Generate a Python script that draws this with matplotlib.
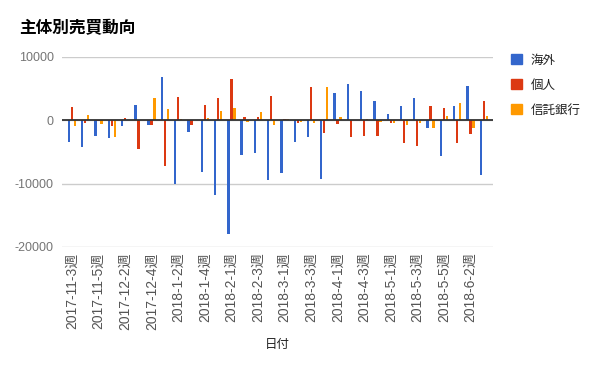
import matplotlib
matplotlib.use("Agg")
import matplotlib.pyplot as plt
from matplotlib.patches import Patch
import numpy as np

plt.rcParams['font.family'] = ['Liberation Sans', 'Noto Sans CJK JP', 'DejaVu Sans']

categories = [
    "2017-11-3週", "2017-11-4週", "2017-11-5週", "2017-12-1週", "2017-12-2週", "2017-12-3週",
    "2017-12-4週", "2018-1-1週", "2018-1-2週", "2018-1-3週", "2018-1-4週", "2018-1-5週",
    "2018-2-1週", "2018-2-2週", "2018-2-3週", "2018-2-4週", "2018-3-1週", "2018-3-2週",
    "2018-3-3週", "2018-3-4週", "2018-4-1週", "2018-4-2週", "2018-4-3週", "2018-4-4週",
    "2018-5-1週", "2018-5-2週", "2018-5-3週", "2018-5-4週", "2018-5-5週", "2018-6-1週",
    "2018-6-2週", "2018-6-3週",
]
kaigai = [-3400, -4200, -2450, -2750, -850, 2400, -700, 6800, -10050, -1800,
          -8150, -11800, -17900, -5450, -5100, -9400, -8300, -3400, -2600, -9250,
          4300, 5700, 4600, 3000, 950, 2200, 3500, -1150, -5600, 2200, 5400, -8600]
kojin = [2100, -400, -100, -850, 300, -4500, -700, -7200, 3750, -700,
         2400, 3500, 6500, 450, 600, 3800, 200, -400, 5250, -1950,
         -550, -2600, -2450, -2450, -400, -3550, -4000, 2200, 1900, -3550, -2100, 3000]
shintaku = [-850, 800, -550, -2600, 50, 50, 3450, 1750, 150, 50,
            300, 1450, 1900, -200, 1250, -700, 200, -200, -350, 5250,
            450, 50, 200, -200, -350, -700, -350, -1150, 650, 2700, -1150, 650]
series_names = ["海外", "個人", "信託銀行"]
colors = ["#3366cc", "#dc3912", "#ff9900"]

fig = plt.figure(figsize=(6, 3.71), dpi=100)
ax = fig.add_axes([62/600, 1-247/371, (493-62)/600, 190/371])

x = np.arange(len(categories))
w = 0.175
off = 0.226
for i, (vals, c) in enumerate(zip([kaigai, kojin, shintaku], colors)):
    ax.bar(x + (i-1)*off, vals, width=w, color=c, zorder=3, linewidth=0)

ax.set_xlim(-0.75, len(categories)-0.3)
ax.set_ylim(-20000, 10000)
ax.set_yticks([-20000, -10000, 0, 10000])
ax.set_yticklabels(["-20000", "-10000", "0", "10000"])
ax.grid(axis='y', color='#cccccc', linewidth=1, zorder=0)
ax.axhline(0, color='#333333', linewidth=1.3, zorder=4)
for s in ax.spines.values():
    s.set_visible(False)
ax.tick_params(axis='y', length=0, pad=6, labelsize=9, labelcolor='#757575')
ax.set_xticks(x[::2])
ax.set_xticklabels(categories[::2], rotation=90, va='top', ha='center')
ax.tick_params(axis='x', length=0, pad=4, labelsize=10, labelcolor='#555555')

fig.text(19/600, 1-28/371, "主体別売買動向", fontsize=12, fontweight='bold',
         va='center', ha='left', color='black')
fig.text(277/600, 1-345/371, "日付", fontsize=9, va='center', ha='center', color='#222222')

handles = [Patch(facecolor=c, edgecolor=c) for c in colors]
fig.legend(handles, series_names, loc='upper left', bbox_to_anchor=(506/600, 1-49/371),
           frameon=False, fontsize=9, handlelength=0.9, handleheight=0.9,
           labelspacing=1.0, handletextpad=0.7, labelcolor='#222222', borderaxespad=0)

fig.savefig("out.png", dpi=100)
